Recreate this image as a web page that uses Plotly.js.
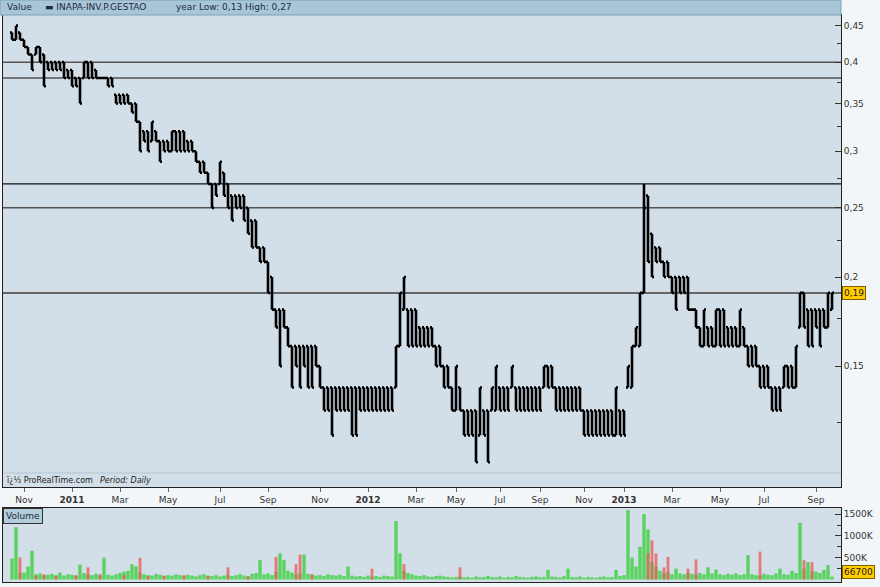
<!DOCTYPE html>
<html>
<head>
<meta charset="utf-8">
<script src="https://cdn.plot.ly/plotly-3.0.1.min.js"></script>
<style>
html,body{margin:0;padding:0;background:#f3f6f8;}
#chart{width:880px;height:587px;}
</style>
</head>
<body>
<div id="chart"></div>
<script>
// ---- DATA ----
const dates = [
"2010-10-17","2010-10-22","2010-10-27","2010-11-01","2010-11-06","2010-11-11","2010-11-16","2010-11-21","2010-11-26","2010-12-01",
"2010-12-06","2010-12-11","2010-12-16","2010-12-21","2010-12-27","2011-01-01","2011-01-06","2011-01-11","2011-01-16","2011-01-22",
"2011-01-27","2011-02-01","2011-02-06","2011-02-11","2011-02-16","2011-02-21","2011-02-26","2011-03-03","2011-03-08","2011-03-13",
"2011-03-18","2011-03-23","2011-03-28","2011-04-02","2011-04-07","2011-04-12","2011-04-17","2011-04-22","2011-04-27","2011-05-01",
"2011-05-06","2011-05-11","2011-05-16","2011-05-21","2011-05-25","2011-05-30","2011-06-04","2011-06-09","2011-06-14","2011-06-19",
"2011-06-24","2011-06-29","2011-07-03","2011-07-08","2011-07-13","2011-07-18","2011-07-23","2011-07-28","2011-08-02","2011-08-07",
"2011-08-11","2011-08-16","2011-08-21","2011-08-26","2011-09-01","2011-09-06","2011-09-11","2011-09-16","2011-09-21","2011-09-25",
"2011-09-30","2011-10-05","2011-10-10","2011-10-15","2011-10-20","2011-10-25","2011-10-30","2011-11-03","2011-11-08","2011-11-13",
"2011-11-18","2011-11-23","2011-11-28","2011-12-03","2011-12-08","2011-12-13","2011-12-18","2011-12-23","2011-12-28","2012-01-02",
"2012-01-07","2012-01-12","2012-01-17","2012-01-22","2012-01-27","2012-02-01","2012-02-06","2012-02-12","2012-02-17","2012-02-22",
"2012-02-27","2012-03-04","2012-03-10","2012-03-16","2012-03-21","2012-03-27","2012-04-02","2012-04-08","2012-04-13","2012-04-19",
"2012-04-25","2012-05-01","2012-05-07","2012-05-13","2012-05-19","2012-05-25","2012-05-31","2012-06-06","2012-06-12","2012-06-18",
"2012-06-24","2012-07-01","2012-07-05","2012-07-11","2012-07-17","2012-07-22","2012-07-28","2012-08-03","2012-08-09","2012-08-14",
"2012-08-20","2012-08-26","2012-09-01","2012-09-07","2012-09-12","2012-09-18","2012-09-24","2012-09-29","2012-10-05","2012-10-11",
"2012-10-16","2012-10-22","2012-10-28","2012-11-03","2012-11-09","2012-11-14","2012-11-20","2012-11-26","2012-12-03","2012-12-09",
"2012-12-15","2012-12-21","2012-12-27","2013-01-02","2013-01-07","2013-01-12","2013-01-17","2013-01-21","2013-01-26","2013-01-31",
"2013-02-05","2013-02-10","2013-02-15","2013-02-20","2013-02-25","2013-03-01","2013-03-06","2013-03-11","2013-03-16","2013-03-21",
"2013-03-26","2013-03-31","2013-04-05","2013-04-10","2013-04-16","2013-04-21","2013-04-26","2013-05-01","2013-05-07","2013-05-13",
"2013-05-18","2013-05-24","2013-05-30","2013-06-05","2013-06-11","2013-06-16","2013-06-22","2013-06-28","2013-07-03","2013-07-08",
"2013-07-12","2013-07-17","2013-07-22","2013-07-26","2013-07-31","2013-08-05","2013-08-10","2013-08-14","2013-08-19","2013-08-24",
"2013-08-28","2013-09-02","2013-09-06","2013-09-11","2013-09-15","2013-09-20"
];

const high = [
.44,.45,.44,.43,.42,.41,.42,.42,.41,.40,
.40,.40,.40,.40,.39,.39,.38,.38,.40,.40,
.40,.39,.38,.38,.38,.38,.36,.36,.36,.36,
.35,.35,.33,.32,.32,.33,.32,.31,.31,.31,
.32,.32,.32,.32,.31,.31,.30,.29,.29,.28,
.27,.27,.29,.28,.27,.26,.26,.26,.26,.25,
.24,.24,.22,.22,.21,.20,.18,.18,.18,.17,
.16,.16,.16,.16,.16,.16,.16,.15,.14,.14,
.14,.14,.14,.14,.14,.14,.14,.14,.14,.14,
.14,.14,.14,.14,.14,.14,.16,.19,.20,.18,
.18,.18,.17,.17,.17,.17,.16,.16,.15,.15,
.14,.15,.14,.13,.13,.13,.13,.14,.13,.13,
.14,.15,.14,.14,.14,.15,.14,.14,.14,.14,
.14,.14,.14,.15,.15,.15,.14,.14,.14,.14,
.14,.14,.14,.13,.13,.13,.13,.13,.13,.13,
.13,.14,.13,.13,.15,.16,.17,.19,.27,.26,
.23,.22,.22,.21,.21,.20,.20,.20,.20,.20,
.18,.18,.17,.18,.17,.17,.18,.18,.18,.17,
.17,.17,.18,.17,.16,.16,.16,.15,.15,.15,
.14,.14,.14,.15,.15,.15,.16,.19,.19,.18,
.18,.18,.18,.18,.19,.19
];

const low = [
.43,.43,.43,.42,.41,.39,.41,.40,.37,.39,
.39,.39,.39,.38,.38,.37,.37,.35,.38,.38,
.38,.38,.38,.38,.37,.37,.35,.35,.35,.35,
.34,.33,.30,.31,.30,.31,.31,.29,.30,.30,
.30,.30,.30,.30,.30,.30,.29,.28,.28,.27,
.25,.26,.27,.26,.25,.24,.25,.25,.24,.23,
.22,.22,.21,.21,.19,.18,.17,.15,.17,.16,
.14,.15,.14,.15,.14,.14,.15,.14,.13,.13,
.12,.13,.13,.13,.13,.12,.12,.13,.13,.13,
.13,.13,.13,.13,.13,.13,.14,.16,.18,.16,
.16,.16,.16,.16,.16,.16,.15,.15,.14,.14,
.13,.13,.13,.12,.12,.12,.11,.12,.12,.11,
.13,.13,.13,.13,.13,.14,.13,.13,.13,.13,
.13,.13,.13,.14,.14,.14,.13,.13,.13,.13,
.13,.13,.13,.12,.12,.12,.12,.12,.12,.12,
.12,.12,.12,.12,.14,.14,.16,.16,.19,.21,
.20,.21,.21,.20,.20,.19,.18,.19,.19,.18,
.18,.17,.16,.16,.16,.16,.16,.16,.16,.16,
.16,.16,.16,.16,.15,.15,.15,.14,.14,.14,
.13,.13,.13,.14,.14,.14,.14,.17,.17,.16,
.16,.17,.16,.17,.17,.18
];

const open = [
.44,.43,.44,.43,.42,.41,.41,.42,.41,.40,
.40,.40,.40,.40,.39,.39,.38,.38,.38,.40,
.40,.39,.38,.38,.38,.38,.36,.36,.36,.36,
.35,.35,.33,.32,.32,.31,.32,.31,.31,.31,
.30,.32,.32,.32,.31,.31,.30,.29,.29,.28,
.27,.27,.27,.28,.27,.26,.26,.26,.26,.25,
.24,.24,.22,.22,.21,.20,.18,.18,.18,.17,
.16,.16,.16,.16,.16,.16,.16,.15,.14,.14,
.14,.14,.14,.14,.14,.14,.14,.14,.14,.14,
.14,.14,.14,.14,.14,.14,.14,.16,.18,.18,
.18,.18,.17,.17,.17,.17,.16,.16,.15,.15,
.14,.13,.14,.13,.13,.13,.13,.12,.13,.13,
.13,.13,.14,.14,.14,.14,.14,.14,.14,.14,
.14,.14,.14,.14,.15,.15,.14,.14,.14,.14,
.14,.14,.14,.13,.13,.13,.13,.13,.13,.13,
.13,.12,.13,.13,.14,.14,.16,.16,.19,.26,
.23,.22,.22,.21,.21,.20,.20,.20,.20,.20,
.18,.18,.17,.16,.17,.17,.16,.18,.18,.17,
.17,.17,.16,.17,.16,.16,.16,.15,.15,.15,
.14,.14,.14,.14,.15,.15,.14,.17,.19,.18,
.18,.18,.18,.18,.17,.18
];

const close = [
.43,.45,.43,.42,.41,.39,.42,.40,.37,.39,
.39,.39,.39,.38,.38,.37,.37,.35,.40,.38,
.38,.38,.38,.38,.37,.37,.35,.35,.35,.35,
.34,.33,.30,.31,.30,.33,.31,.29,.30,.30,
.32,.30,.30,.30,.30,.30,.29,.28,.28,.27,
.25,.26,.29,.26,.25,.24,.25,.25,.24,.23,
.22,.22,.21,.21,.19,.18,.17,.15,.17,.16,
.14,.15,.14,.15,.14,.14,.15,.14,.13,.13,
.12,.13,.13,.13,.13,.12,.12,.13,.13,.13,
.13,.13,.13,.13,.13,.13,.16,.19,.20,.16,
.16,.16,.16,.16,.16,.16,.15,.15,.14,.14,
.13,.15,.13,.12,.12,.12,.11,.14,.12,.11,
.14,.15,.13,.13,.13,.15,.13,.13,.13,.13,
.13,.13,.13,.15,.14,.14,.13,.13,.13,.13,
.13,.13,.13,.12,.12,.12,.12,.12,.12,.12,
.12,.14,.12,.12,.15,.16,.17,.19,.25,.21,
.20,.21,.21,.20,.20,.19,.18,.19,.19,.18,
.18,.17,.16,.18,.16,.16,.18,.16,.16,.16,
.16,.16,.18,.16,.15,.15,.15,.14,.14,.14,
.13,.13,.13,.15,.14,.14,.16,.19,.17,.16,
.16,.17,.16,.17,.19,.19
];

// volume, thousands of shares (up days / down days)
const volUp = [
480,1200,150,160,300,660,120,140,90,110,
130,100,160,90,120,110,80,340,150,120,
100,130,90,500,110,90,120,150,180,200,
350,300,150,120,100,90,130,110,80,100,
90,120,100,80,110,90,70,100,120,90,
80,100,70,90,110,80,100,120,90,80,
130,150,450,120,140,100,180,600,450,200,
160,120,140,570,130,110,90,100,80,120,
100,90,110,80,300,90,70,80,60,90,
70,80,60,90,80,70,1340,600,200,150,
120,90,80,100,70,60,80,90,70,60,
50,60,70,50,60,40,70,50,60,80,
60,50,70,40,60,50,80,60,50,40,
60,70,50,60,220,70,60,50,80,250,
60,50,70,40,60,50,40,60,70,50,
60,220,80,100,1590,500,300,750,1500,1150,
400,300,200,150,180,120,250,140,120,160,
130,110,150,120,280,140,230,120,100,130,
110,140,100,120,560,120,100,90,130,110,
100,140,250,120,110,200,150,1300,250,400,
200,180,150,220,330,66.7
];
const volDown = [
0,0,505,0,0,0,90,0,120,0,
0,80,0,0,0,0,100,0,0,280,
0,0,120,0,0,0,0,0,100,0,
0,0,500,0,80,0,0,0,90,0,
0,0,0,100,0,0,0,0,0,80,
0,0,0,0,280,0,0,0,0,70,
0,0,0,0,0,0,520,0,0,0,
0,350,570,0,0,120,0,0,0,0,
0,0,0,0,0,0,0,0,0,0,
250,0,0,0,0,0,0,0,350,0,
0,0,0,0,0,0,0,0,0,0,
0,0,280,0,0,0,0,0,0,0,
0,0,0,0,0,0,0,0,0,0,
0,0,0,0,0,0,0,0,0,0,
0,0,0,0,0,0,0,0,0,0,
0,0,0,0,0,0,0,0,0,600,
900,600,0,280,520,0,0,0,0,250,
0,460,0,0,0,0,0,0,0,0,
0,0,0,0,0,0,0,640,0,0,
0,0,0,0,0,0,0,0,450,0,
400,0,0,0,0,0
];

const levels = [0.40, 0.38, 0.27, 0.25, 0.19];
const lastPrice = 0.19;
const lastVolume = "66700";

const xTickVals = ["2010-11-01","2011-01-01","2011-03-03","2011-05-01","2011-07-03","2011-09-01","2011-11-03",
  "2012-01-02","2012-03-04","2012-05-01","2012-07-05","2012-09-01","2012-11-03",
  "2013-01-02","2013-03-01","2013-05-01","2013-07-03","2013-09-02"];
const xTickText = ["Nov","<b>2011</b>","Mar","May","Jul","Sep","Nov",
  "<b>2012</b>","Mar","May","Jul","Sep","Nov",
  "<b>2013</b>","Mar","May","Jul","Sep"];
const yTickVals = [0.15,0.2,0.25,0.3,0.35,0.4,0.45];
const yTickText = ["0,15","0,2","0,25","0,3","0,35","0,4","0,45"];
const yMinorVals = [0.125,0.175,0.225,0.275,0.325,0.375,0.425];
const vTickVals = [500,1000,1500];
const vTickText = ["500K","1000K","1500K"];
const vMinorVals = [250,750,1250];

// ---- CHART ----
const F = "DejaVu Sans, Verdana, sans-serif";
const levelColors = ["#555","#555","#111","#555","#666"];
const levelWidths = [1.5,1.5,1.2,1.5,2];

const traces = [
  {type:"ohlc", x:dates, open:open, high:high, low:low, close:close,
   xaxis:"x", yaxis:"y", tickwidth:0.5, hoverinfo:"skip", showlegend:false,
   increasing:{line:{color:"#000", width:2.6}}, decreasing:{line:{color:"#000", width:2.6}}},
  {type:"bar", x:dates, y:volUp, xaxis:"x2", yaxis:"y2", width:0.85,
   marker:{color:"rgba(50,205,50,0.75)", line:{width:0}}, showlegend:false, hoverinfo:"skip"},
  {type:"bar", x:dates, y:volDown, xaxis:"x2", yaxis:"y2", width:0.7,
   marker:{color:"rgba(232,95,95,0.8)", line:{width:0}}, showlegend:false, hoverinfo:"skip"}
];

const px = v => (v - 3) / 838;      // pixel -> paper x
const py = v => 1 - v / 587;        // pixel -> paper y

const shapes = levels.map((lv, i) => ({
  type:"line", xref:"paper", yref:"y", x0:0, x1:1, y0:lv, y1:lv,
  line:{color:levelColors[i], width:levelWidths[i]}, layer:"below"
}));
shapes.push({type:"rect", xref:"paper", yref:"paper", x0:px(0), x1:px(841), y0:py(15), y1:py(0),
  fillcolor:"#a9c5d8", line:{color:"#7f9fb3", width:1}, layer:"above"});
shapes.push({type:"line", xref:"paper", yref:"paper", x0:0, x1:1, y0:py(473), y1:py(473),
  line:{color:"#b4c4d0", width:1}});

const annFont = {family:F, size:9, color:"#1c2c38"};
const annotations = [
  {xref:"paper", yref:"paper", x:px(5), y:py(7.5), xanchor:"left", yanchor:"middle", text:"Value", showarrow:false, font:annFont},
  {xref:"paper", yref:"paper", x:px(43), y:py(7.5), xanchor:"left", yanchor:"middle", text:"▬ INAPA-INV.P.GESTAO", showarrow:false, font:annFont},
  {xref:"paper", yref:"paper", x:px(174), y:py(7.5), xanchor:"left", yanchor:"middle", text:"year Low: 0,13 High: 0,27", showarrow:false, font:annFont},
  {xref:"paper", yref:"paper", x:px(4), y:py(480), xanchor:"left", yanchor:"middle", text:"ï¿½ ProRealTime.com", showarrow:false, font:{family:F, size:8, color:"#222"}},
  {xref:"paper", yref:"paper", x:px(98), y:py(480), xanchor:"left", yanchor:"middle", text:"<i>Period: Daily</i>", showarrow:false, font:{family:F, size:8, color:"#222"}},
  {xref:"paper", yref:"y", x:1, y:Math.log10(lastPrice), xanchor:"left", yanchor:"middle", xshift:1, text:"0,19", showarrow:false,
   bgcolor:"#ffcc00", bordercolor:"#7a6000", borderwidth:1, borderpad:1, font:{family:F, size:9, color:"#222"}},
  {xref:"paper", yref:"paper", x:1, y:py(572), xanchor:"left", yanchor:"middle", xshift:1, text:lastVolume, showarrow:false,
   bgcolor:"#ffcc00", bordercolor:"#7a6000", borderwidth:1, borderpad:1, font:{family:F, size:9, color:"#222"}},
  {xref:"paper", yref:"paper", x:px(3), y:py(508), xanchor:"left", yanchor:"top", text:"Volume", showarrow:false,
   bgcolor:"#b3cddd", bordercolor:"#333", borderwidth:1, borderpad:2, font:{family:F, size:9, color:"#1c2c38"}}
];

const tickFont = {family:F, size:9, color:"#333"};
const layout = {
  width:880, height:587,
  margin:{l:3, r:39, t:0, b:0},
  paper_bgcolor:"#f3f6f8", plot_bgcolor:"#d3dfe8",
  showlegend:false, barmode:"overlay", dragmode:false,
  xaxis:{type:"category", domain:[0,1], anchor:"y", range:[-2.25, 207.25],
    tickmode:"array", tickvals:xTickVals, ticktext:xTickText, ticks:"outside", ticklen:4, tickcolor:"#666",
    tickfont:tickFont, showline:true, mirror:true, linecolor:"#222", linewidth:1, showgrid:false,
    rangeslider:{visible:false}, fixedrange:true},
  yaxis:{type:"log", domain:[py(487), py(15)], anchor:"x", side:"right",
    range:[Math.log10(0.10158), Math.log10(0.4657)],
    tickmode:"array", tickvals:yTickVals, ticktext:yTickText, ticks:"inside", ticklen:6, tickcolor:"#333",
    minor:{tickmode:"array", tickvals:yMinorVals, ticks:"inside", ticklen:4, tickcolor:"#333"},
    tickfont:tickFont, showline:true, mirror:true, linecolor:"#222", linewidth:1, showgrid:false, zeroline:false, fixedrange:true},
  xaxis2:{type:"category", matches:"x", anchor:"y2", domain:[0,1], showticklabels:false, ticks:"",
    showline:true, mirror:true, linecolor:"#222", linewidth:1, showgrid:false, rangeslider:{visible:false}, fixedrange:true},
  yaxis2:{domain:[py(582), py(508)], anchor:"x2", side:"right", range:[-57, 1640],
    tickmode:"array", tickvals:vTickVals, ticktext:vTickText, ticks:"inside", ticklen:6, tickcolor:"#333",
    minor:{tickmode:"array", tickvals:vMinorVals, ticks:"inside", ticklen:4, tickcolor:"#333"},
    tickfont:tickFont, showline:true, mirror:true, linecolor:"#222", linewidth:1, showgrid:false, zeroline:false, fixedrange:true},
  shapes:shapes, annotations:annotations
};

Plotly.newPlot("chart", traces, layout, {staticPlot:true, displayModeBar:false});
</script>
</body>
</html>
